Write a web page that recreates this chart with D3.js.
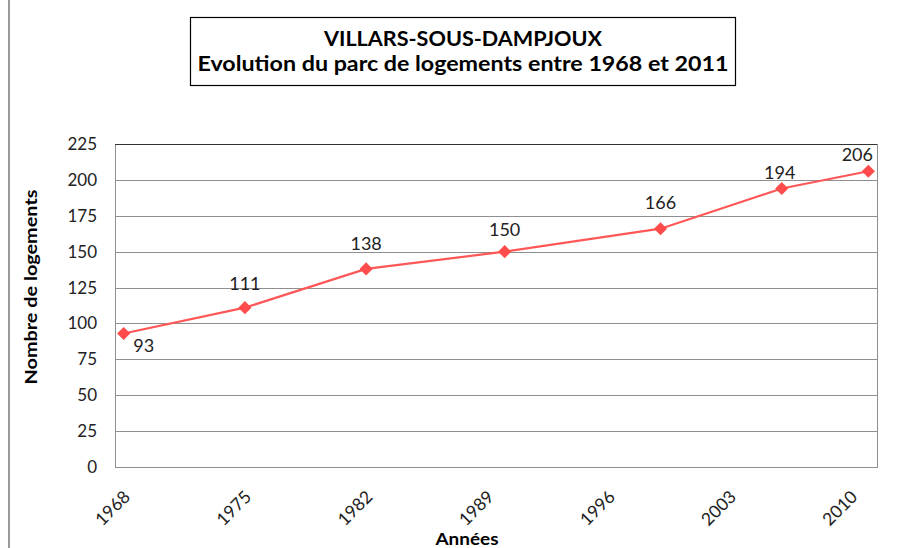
<!DOCTYPE html>
<html><head><meta charset="utf-8">
<script src="https://cdn.jsdelivr.net/npm/d3@7"></script>
<style>body{margin:0;background:#fff}svg{display:block}text{font-family:Lato,"Open Sans",sans-serif}</style>
</head><body>
<svg id="c" width="899" height="548"></svg>
<script>
const years = [1968, 1975, 1982, 1990, 1999, 2006, 2011];
const values = [93, 111, 138, 150, 166, 194, 206];
const xTicks = [1968, 1975, 1982, 1989, 1996, 2003, 2010];
const yTicks = [0, 25, 50, 75, 100, 125, 150, 175, 200, 225];
const titleLines = ["VILLARS-SOUS-DAMPJOUX", "Evolution du parc de logements entre 1968 et 2011"];
const yTitle = "Nombre de logements";
const xTitle = "Années";

const svg = d3.select("#c");
const m = {left:115, right:877, top:144, bottom:467};
const x = d3.scaleLinear().domain([1967.5, 2011.5]).range([m.left, m.right]);
const y = d3.scaleLinear().domain([0, 225]).range([m.bottom, m.top]);

// left page rule
svg.append("line").attr("x1",9).attr("x2",9).attr("y1",0).attr("y2",548)
  .attr("stroke","#9a9a9a").attr("stroke-width",2);

// title box
svg.append("rect").attr("x",190.5).attr("y",17.5).attr("width",545).attr("height",68)
  .attr("fill","#fff").attr("stroke","#000").attr("stroke-width",1.2);
svg.append("text").attr("x",463).attr("y",46).attr("text-anchor","middle")
  .attr("font-size",21).attr("font-weight","bold").attr("fill","#000")
  .attr("textLength",278).attr("lengthAdjust","spacingAndGlyphs").text(titleLines[0]);
svg.append("text").attr("x",463).attr("y",71).attr("text-anchor","middle")
  .attr("font-size",21).attr("font-weight","bold").attr("fill","#000")
  .attr("textLength",531).attr("lengthAdjust","spacingAndGlyphs").text(titleLines[1]);

// grid
svg.append("g").selectAll("line").data(yTicks).join("line")
  .attr("x1",m.left).attr("x2",m.right)
  .attr("y1",d=>Math.round(y(d))+0.5).attr("y2",d=>Math.round(y(d))+0.5)
  .attr("stroke","#8f8f8f").attr("stroke-width",1);
// plot frame
svg.append("rect").attr("x",m.left+0.5).attr("y",m.top+0.5)
  .attr("width",m.right-m.left).attr("height",Math.round(y(0))-m.top)
  .attr("fill","none").attr("stroke","#8f8f8f");
svg.append("line").attr("x1",m.left).attr("x2",m.right).attr("y1",m.top+0.5).attr("y2",m.top+0.5)
  .attr("stroke","#333");

// y axis
const yAxis = svg.append("g").attr("transform",`translate(${m.left},0)`)
  .call(d3.axisLeft(y).tickValues(yTicks).tickSize(0).tickPadding(18));
yAxis.select(".domain").remove();
yAxis.selectAll("text").attr("font-size",17).attr("fill","#222")
  .style("font-family","Lato,'Open Sans',sans-serif");

// x axis
const xAxis = svg.append("g").attr("transform",`translate(0,${m.bottom})`)
  .call(d3.axisBottom(x).tickValues(xTicks).tickFormat(d3.format("d")).tickSize(0));
xAxis.select(".domain").remove();
xAxis.selectAll("text").attr("font-size",17.5).attr("fill","#222")
  .style("font-family","Lato,'Open Sans',sans-serif")
  .attr("text-anchor","end").attr("dy",null).attr("y",0)
  .attr("transform","translate(7,31) rotate(-45)");

// axis titles
svg.append("text").attr("transform","translate(37,287) rotate(-90)").attr("text-anchor","middle")
  .attr("font-size",17).attr("font-weight","bold").attr("fill","#000")
  .attr("textLength",195).attr("lengthAdjust","spacingAndGlyphs").text(yTitle);
svg.append("text").attr("x",467).attr("y",545).attr("text-anchor","middle")
  .attr("font-size",17).attr("font-weight","bold").attr("fill","#000")
  .attr("textLength",63).attr("lengthAdjust","spacingAndGlyphs").text(xTitle);

// line
const pts = years.map((yr,i)=>({yr, v:values[i]}));
svg.append("path").datum(pts)
  .attr("d", d3.line().x(d=>x(d.yr)).y(d=>y(d.v)))
  .attr("fill","none").attr("stroke","#ff5757").attr("stroke-width",2.2);
svg.append("g").selectAll("path").data(pts).join("path")
  .attr("d", d3.symbol().type(d3.symbolDiamond2).size(110))
  .attr("transform", d=>`translate(${x(d.yr)},${y(d.v)})`)
  .attr("fill","#ff4b4b");

// data labels
const off = [[20,19],[0,-18],[0,-19],[0,-16],[0,-20],[-2,-10],[-11,-10]];
svg.append("g").selectAll("text").data(pts).join("text")
  .attr("x",(d,i)=>x(d.yr)+off[i][0]).attr("y",(d,i)=>y(d.v)+off[i][1])
  .attr("text-anchor","middle").attr("font-size",18).attr("fill","#222")
  .text(d=>d.v);
</script>
</body></html>
